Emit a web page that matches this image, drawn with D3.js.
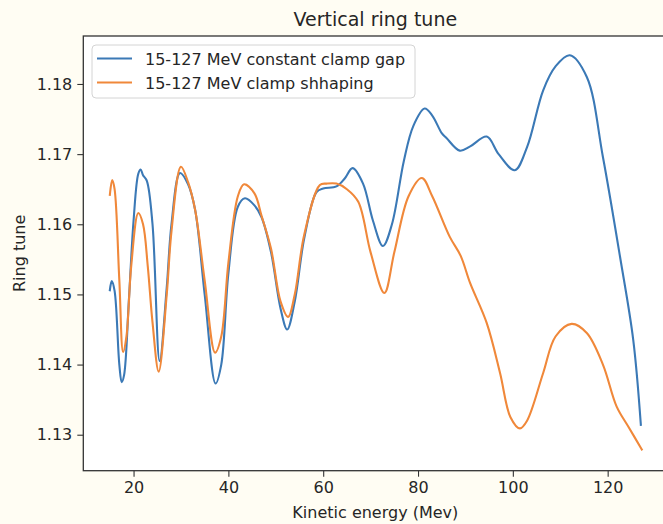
<!DOCTYPE html>
<html>
<head>
<meta charset="utf-8">
<script src="https://cdn.jsdelivr.net/npm/d3@7/dist/d3.min.js"></script>
<style>
  html, body { margin: 0; padding: 0; background: #fffdf3; }
  svg { display: block; }
  text { font-family: "DejaVu Sans", sans-serif; fill: #262626; }
</style>
</head>
<body>
<script>
const title = "Vertical ring tune";
const xLabel = "Kinetic energy (Mev)";
const yLabel = "Ring tune";
const seriesNames = ["15-127 MeV constant clamp gap", "15-127 MeV clamp shhaping"];
const seriesColors = ["#3b79b6", "#f0883a"];
const xTicks = [20, 40, 60, 80, 100, 120];
const yTicks = [1.13, 1.14, 1.15, 1.16, 1.17, 1.18];

const gapEnergy = [15, 15.4, 16, 17, 17.5, 18, 19, 20, 21, 21.5, 22, 22.8, 24, 25.5, 27, 28, 29.8, 31.5, 33, 35, 37.3, 38.5, 40, 42, 43.5, 45.5, 47, 49, 51, 52.4, 54, 56, 58.6, 60, 62.8, 64.5, 66.2, 68.4, 70.5, 72.6, 74.5, 77, 79, 81.4, 83, 85, 86, 88.8, 91, 94.5, 97, 100.4, 103, 106.4, 109, 112, 115.6, 119, 122.6, 125.4, 127];
const gapTune = [1.1506, 1.1519, 1.1505, 1.1400, 1.1375, 1.1385, 1.1490, 1.1605, 1.1672, 1.1678, 1.1670, 1.1662, 1.1600, 1.1405, 1.1510, 1.1600, 1.1673, 1.1657, 1.1620, 1.1500, 1.1373, 1.1400, 1.1530, 1.1625, 1.1637, 1.1627, 1.1610, 1.1560, 1.1480, 1.1450, 1.1490, 1.1580, 1.1646, 1.1651, 1.1654, 1.1665, 1.1680, 1.1658, 1.1605, 1.1569, 1.1600, 1.1690, 1.1740, 1.1765, 1.1755, 1.1730, 1.1723, 1.1705, 1.1711, 1.1725, 1.1700, 1.1677, 1.1710, 1.1791, 1.1825, 1.1841, 1.1810, 1.1696, 1.1554, 1.1435, 1.1314];

const shapeEnergy = [15, 15.5, 16, 17, 17.8, 18.5, 19.5, 21, 22, 23, 24, 25.3, 27, 28, 30, 31.5, 33, 35, 37.2, 38.5, 40, 42, 43.3, 45.5, 47, 49, 51, 52.6, 54, 56, 59.3, 60.7, 62.8, 65, 67.4, 70, 72.9, 75, 78, 80.8, 83, 86.7, 89, 91, 94.5, 97.3, 99.5, 101.5, 103, 106.4, 109, 112.4, 115.6, 119, 121.9, 124.5, 127.2];
const shapeTune = [1.1642, 1.1663, 1.1650, 1.1520, 1.1418, 1.1440, 1.1540, 1.1616, 1.1600, 1.1540, 1.1460, 1.1390, 1.1500, 1.1590, 1.1682, 1.1660, 1.1620, 1.1520, 1.1417, 1.1440, 1.1545, 1.1640, 1.1657, 1.1644, 1.1612, 1.1565, 1.1490, 1.1468, 1.1500, 1.1585, 1.1656, 1.1658, 1.1658, 1.1650, 1.1632, 1.1560, 1.1502, 1.1560, 1.1640, 1.1666, 1.1640, 1.1582, 1.1555, 1.1516, 1.1459, 1.1388, 1.1325, 1.1309, 1.1320, 1.1388, 1.1440, 1.1458, 1.1445, 1.1400, 1.1340, 1.1310, 1.1279];

const W = 663, H = 524;
const svg = d3.select("body").append("svg").attr("width", W).attr("height", H);
svg.append("rect").attr("width", W).attr("height", H).attr("fill", "#fffdf3");

const axL = 83.3, axR = 667.4, axT = 36, axB = 470.7;
const x = d3.scaleLinear().domain([9.4, 132.6]).range([axL, axR]);
const y = d3.scaleLinear().domain([1.12487, 1.18684]).range([axB, axT]);

svg.append("rect").attr("x", axL).attr("y", axT).attr("width", axR - axL).attr("height", axB - axT).attr("fill", "#ffffff");

const defs = svg.append("defs");
defs.append("clipPath").attr("id", "clip").append("rect")
  .attr("x", axL).attr("y", axT).attr("width", axR - axL).attr("height", axB - axT);

const series = [
  {name: seriesNames[0], color: seriesColors[0], xs: gapEnergy, ys: gapTune},
  {name: seriesNames[1], color: seriesColors[1], xs: shapeEnergy, ys: shapeTune}
];

const line = d3.line().x(d => x(d[0])).y(d => y(d[1])).curve(d3.curveCatmullRom.alpha(0.5));
const g = svg.append("g").attr("clip-path", "url(#clip)");
series.forEach(s => {
  g.append("path").datum(s.xs.map((v, i) => [v, s.ys[i]]))
    .attr("d", line).attr("fill", "none").attr("stroke", s.color)
    .attr("stroke-width", 2.1).attr("stroke-linejoin", "round").attr("stroke-linecap", "square");
});

// axes
const xAxis = d3.axisBottom(x).tickValues(xTicks).tickSize(6).tickPadding(5).tickFormat(d3.format("d"));
const yAxis = d3.axisLeft(y).tickValues(yTicks).tickSize(6).tickPadding(5).tickFormat(d3.format(".2f"));
const gx = svg.append("g").attr("transform", `translate(0,${axB})`).call(xAxis);
const gy = svg.append("g").attr("transform", `translate(${axL},0)`).call(yAxis);
[gx, gy].forEach(ga => {
  ga.select(".domain").remove();
  ga.selectAll(".tick line").attr("stroke", "#333").attr("stroke-width", 1.1);
  ga.selectAll(".tick text").attr("font-size", 16).attr("fill", "#262626").attr("font-family", "DejaVu Sans, sans-serif");
});

// frame
svg.append("rect").attr("x", axL).attr("y", axT).attr("width", axR - axL).attr("height", axB - axT)
  .attr("fill", "none").attr("stroke", "#333").attr("stroke-width", 1.3);

// title & labels
svg.append("text").attr("x", (axL + axR) / 2).attr("y", 26).attr("text-anchor", "middle")
  .attr("font-size", 19).text(title);
svg.append("text").attr("x", (axL + axR) / 2).attr("y", 518).attr("text-anchor", "middle")
  .attr("font-size", 16).text(xLabel);
svg.append("text").attr("transform", `translate(25,${(axT + axB) / 2}) rotate(-90)`).attr("text-anchor", "middle")
  .attr("font-size", 16).text(yLabel);

// legend
const lg = svg.append("g");
lg.append("rect").attr("x", 92).attr("y", 45).attr("width", 323).attr("height", 53).attr("rx", 4)
  .attr("fill", "#ffffff").attr("fill-opacity", 0.85).attr("stroke", "#d4d4d4").attr("stroke-width", 1);
series.forEach((s, i) => {
  const cy = 58.5 + i * 24;
  lg.append("line").attr("x1", 97).attr("x2", 132).attr("y1", cy).attr("y2", cy)
    .attr("stroke", s.color).attr("stroke-width", 2.1);
  lg.append("text").attr("x", 145).attr("y", cy + 6).attr("font-size", 16).text(s.name);
});
</script>
</body>
</html>
